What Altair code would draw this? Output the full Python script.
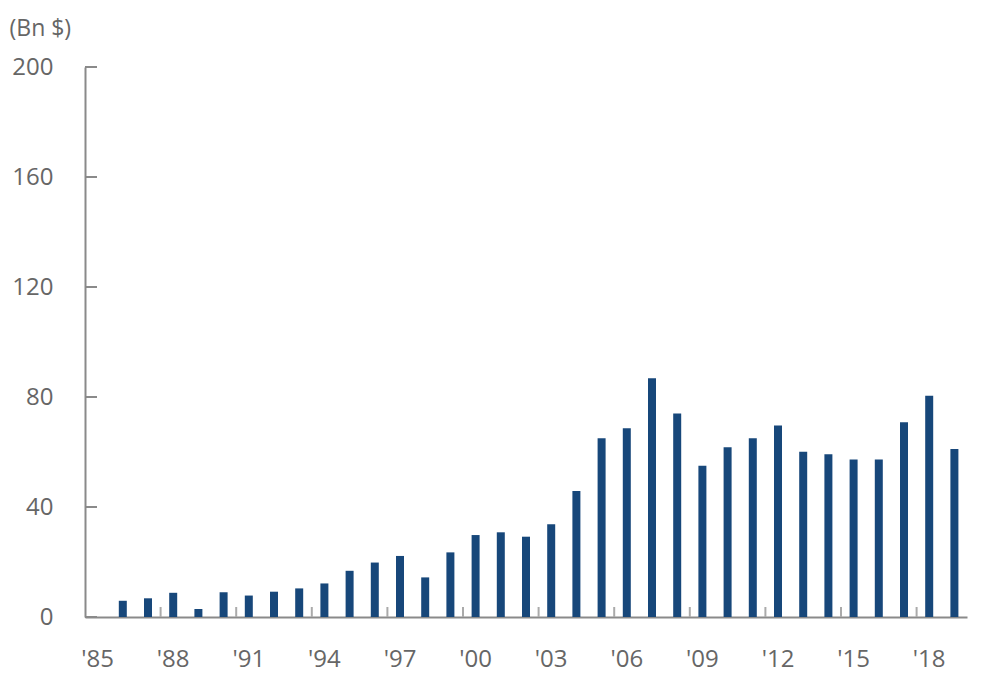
import altair as alt
import pandas as pd

years = [str(y) for y in range(1985, 2020)]
bar_years = [str(y) for y in range(1986, 2020)]
values = [5.9, 6.8, 8.8, 2.9, 9.0, 7.8, 9.2, 10.4, 12.2, 16.8,
          19.8, 22.2, 14.4, 23.5, 29.8, 30.8, 29.2, 33.7, 45.8, 65.0,
          68.6, 86.8, 74.0, 55.0, 61.7, 65.0, 69.6, 60.1, 59.2, 57.3,
          57.3, 70.8, 80.5, 61.1]
x_tick_years = [str(y) for y in range(1988, 2020, 3)]
label_years = [str(y) for y in range(1985, 2020, 3)]
y_ticks = [0, 40, 80, 120, 160, 200]

FONT = "Open Sans"
GREY = "#8a8a8a"
TEXT = "#666666"
NAVY = "#17477a"

df = pd.DataFrame({"year": bar_years, "value": values})
xt = pd.DataFrame({"year": x_tick_years})
yt = pd.DataFrame({"v": y_ticks})

xscale = alt.Scale(domain=years, paddingInner=0, paddingOuter=0)
yscale = alt.Scale(domain=[0, 200], nice=False)

bars = alt.Chart(df).mark_bar(size=8, color=NAVY).encode(
    x=alt.X("year:O", scale=xscale, sort=years,
            axis=alt.Axis(values=label_years, labelAngle=0,
                          labelExpr="\"'\" + slice(datum.label, 2)",
                          ticks=False, domainColor=GREY, domainWidth=2,
                          labelPadding=30, labelFontSize=24, labelFont=FONT,
                          labelColor=TEXT, title=None)),
    y=alt.Y("value:Q", scale=yscale,
            axis=alt.Axis(values=y_ticks, grid=False, ticks=False,
                          domainColor=GREY, domainWidth=2, labelPadding=32,
                          labelFontSize=24, labelFont=FONT, labelColor=TEXT,
                          title="(Bn $)", titleAngle=0, titleAlign="left",
                          titleBaseline="middle", titleX=-76, titleY=-39,
                          titleFont=FONT, titleFontSize=23,
                          titleFontWeight="normal", titleColor=TEXT)),
)

xticks = alt.Chart(xt).mark_rule(color="#aaaaaa", strokeWidth=2).encode(
    x=alt.X("year:O", scale=xscale, sort=years, bandPosition=0),
    y=alt.value(550), y2=alt.value(540),
)

yticks = alt.Chart(yt).mark_rule(color=GREY, strokeWidth=2).encode(
    y=alt.Y("v:Q", scale=yscale),
    x=alt.value(0), x2=alt.value(12),
)

chart = alt.layer(bars, xticks, yticks).properties(
    width=882, height=550,
    autosize=alt.AutoSizeParams(type="none"),
    padding={"left": 77, "top": 59, "right": 20, "bottom": 60},
).configure_view(stroke=None)

chart.save("out.html", embed_options={"renderer": "svg", "actions": False})
